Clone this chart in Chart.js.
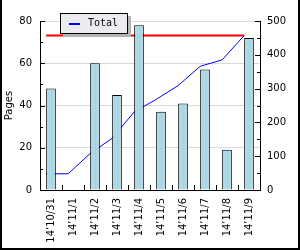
<!DOCTYPE html>
<html>
<head>
<meta charset="utf-8">
<script src="https://cdn.jsdelivr.net/npm/chart.js@4.4.1/dist/chart.umd.min.js"></script>
<style>
    html, body { margin: 0; padding: 0; background: #fff; }
    #wrap { position: relative; width: 300px; height: 250px; }
    #frame {
        position: absolute; left: 0; top: 0; width: 300px; height: 250px;
        box-sizing: border-box; border: 2px solid #000; border-top: 0;
        pointer-events: none;
    }
    #legend {
        position: absolute; left: 60px; top: 13px; width: 66px; height: 19px;
        border: 1px solid #000; background: #ebebf0;
        box-shadow: 3px 3px 0 #b4b4b4;
        font: 10px "DejaVu Sans Mono", monospace; color: #000;
    }
    #legend .swatch { position: absolute; left: 8px; top: 9px; width: 11px; height: 2px; }
    #legend .name { position: absolute; left: 27px; top: 3px; line-height: 12px; }
</style>
</head>
<body>
<div id="wrap">
    <canvas id="chart" width="300" height="250"></canvas>
    <div id="legend"></div>
    <div id="frame"></div>
</div>
<script>
// --- Data ---
const labels = ['14’10/31', '14’11/1', '14’11/2', '14’11/3', '14’11/4', '14’11/5', '14’11/6', '14’11/7', '14’11/8', '14’11/9'];
const pages = [48, 0, 60, 45, 78, 37, 41, 57, 19, 72];
const total = [48, 48, 108, 153, 231, 268, 309, 366, 385, 457];
const pageTotal = 457;
const leftTicks = [0, 20, 40, 60, 80];
const rightTicks = [0, 100, 200, 300, 400, 500];

const BAR_PCT = 0.44;
const font = { family: 'DejaVu Sans', size: 10 };

// line points sit on the left edge of each bar
const lineShift = BAR_PCT / 2;
const toPoints = vals => vals.map((v, i) => ({ x: i - lineShift, y: v }));

// dotted centre line in bars + inward tick marks
const extras = {
    id: 'extras',
    afterDatasetsDraw(chart) {
        const ctx = chart.ctx;
        const { left, right, bottom } = chart.chartArea;

        ctx.save();
        ctx.strokeStyle = '#f2a6a6';
        ctx.lineWidth = 1;
        ctx.setLineDash([1, 2]);
        chart.getDatasetMeta(0).data.forEach(bar => {
            if (bar.base - bar.y < 4) return;
            const x = Math.round(bar.x) + 0.5;
            ctx.beginPath();
            ctx.moveTo(x, bar.y + 3);
            ctx.lineTo(x, bar.base);
            ctx.stroke();
        });
        ctx.setLineDash([]);

        ctx.strokeStyle = '#000';
        const y = chart.scales.y, y2 = chart.scales.y2, xl = chart.scales.xl;
        const step = (leftTicks[1] - leftTicks[0]) / 2;
        for (let v = leftTicks[0]; v <= leftTicks[leftTicks.length - 1]; v += step) {
            const py = Math.round(y.getPixelForValue(v)) + 0.5;
            const len = leftTicks.includes(v) ? 5 : 3;
            ctx.beginPath(); ctx.moveTo(left, py); ctx.lineTo(left + len, py); ctx.stroke();
        }
        const step2 = (rightTicks[1] - rightTicks[0]) / 2;
        for (let v = rightTicks[0]; v <= rightTicks[rightTicks.length - 1]; v += step2) {
            const py = Math.round(y2.getPixelForValue(v)) + 0.5;
            const len = rightTicks.includes(v) ? 5 : 3;
            ctx.beginPath(); ctx.moveTo(right, py); ctx.lineTo(right - len, py); ctx.stroke();
        }
        for (let i = 0; i <= labels.length; i++) {
            const px = Math.round(xl.getPixelForValue(i - 0.5)) + 0.5;
            ctx.beginPath(); ctx.moveTo(px, bottom); ctx.lineTo(px, bottom - 5); ctx.stroke();
        }
        ctx.restore();
    }
};

const chart = new Chart(document.getElementById('chart'), {
    data: {
        labels: labels,
        datasets: [
            {
                type: 'bar', label: 'Pages', data: pages,
                xAxisID: 'x', yAxisID: 'y', grouped: false,
                backgroundColor: '#add8e6', borderColor: '#000', borderWidth: 1,
                barPercentage: BAR_PCT, categoryPercentage: 1, order: 0
            },
            {
                type: 'line', label: 'Total', data: toPoints(total),
                xAxisID: 'xl', yAxisID: 'y2',
                borderColor: '#0000ff', borderWidth: 1, pointRadius: 0, tension: 0, order: 1
            },
            {
                type: 'line', label: 'Sum', data: toPoints(labels.map(() => pageTotal)),
                xAxisID: 'xl', yAxisID: 'y2',
                borderColor: '#ff0000', borderWidth: 2, pointRadius: 0, order: 2
            }
        ]
    },
    options: {
        responsive: false,
        animation: false,
        layout: { padding: { top: 21, left: 0, right: 0, bottom: 0 } },
        plugins: { legend: { display: false }, tooltip: { enabled: false } },
        scales: {
            x: {
                type: 'category', offset: true,
                grid: { display: true, color: 'rgba(0,0,0,0)', drawTicks: false },
                border: { color: '#000', width: 1 },
                ticks: { minRotation: 90, maxRotation: 90, padding: 8, color: '#000', font: font, autoSkip: false },
                afterFit: s => { s.height = 60; }
            },
            xl: { type: 'linear', display: false, min: -0.5, max: labels.length - 0.5 },
            y: {
                position: 'left', min: leftTicks[0], max: leftTicks[leftTicks.length - 1],
                ticks: { stepSize: leftTicks[1] - leftTicks[0], padding: 8, color: '#000', font: font },
                grid: { color: c => c.tick && c.tick.value === 0 ? 'rgba(0,0,0,0)' : '#d9d9d9', drawTicks: false },
                border: { color: '#000', width: 1 },
                title: { display: true, text: 'Pages', color: '#000', font: font, padding: { top: 3, bottom: 0 } },
                afterFit: s => { s.width = 40; }
            },
            y2: {
                position: 'right', min: rightTicks[0], max: rightTicks[rightTicks.length - 1],
                ticks: { stepSize: rightTicks[1] - rightTicks[0], padding: 7, color: '#000', font: font },
                grid: { drawOnChartArea: false, drawTicks: false },
                border: { color: '#000', width: 1 },
                afterFit: s => { s.width = 40; }
            }
        }
    },
    plugins: [extras]
});

// HTML legend, only the cumulative series
const legend = document.getElementById('legend');
const ds = chart.data.datasets[1];
legend.innerHTML = `<span class="swatch" style="background:${ds.borderColor}"></span><span class="name">${ds.label}</span>`;
</script>
</body>
</html>
